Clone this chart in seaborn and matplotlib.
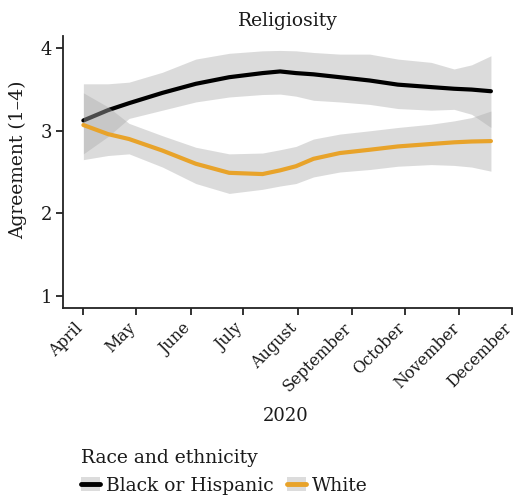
import numpy as np
import pandas as pd
import matplotlib
matplotlib.use("Agg")
import matplotlib.pyplot as plt
import matplotlib.dates as mdates
from matplotlib.patches import Patch
from matplotlib.lines import Line2D
import seaborn as sns

# ---- data (smoothed trend + confidence band) ----
dates = ["2020-04-01", "2020-04-15", "2020-04-27", "2020-05-16", "2020-06-04",
         "2020-06-23", "2020-07-12", "2020-07-22", "2020-07-31", "2020-08-10",
         "2020-08-25", "2020-09-11", "2020-09-27", "2020-10-16", "2020-10-29",
         "2020-11-08", "2020-11-19"]

black_mean = [3.125, 3.25, 3.335, 3.46, 3.57, 3.65, 3.70, 3.72, 3.70, 3.685,
              3.65, 3.61, 3.56, 3.53, 3.51, 3.50, 3.48]
black_hi = [3.57, 3.57, 3.59, 3.71, 3.87, 3.94, 3.97, 3.975, 3.97, 3.95,
            3.93, 3.93, 3.87, 3.83, 3.75, 3.80, 3.91]
black_lo = [2.72, 2.93, 3.15, 3.25, 3.35, 3.41, 3.44, 3.445, 3.42, 3.37,
            3.35, 3.32, 3.27, 3.25, 3.26, 3.20, 3.04]

white_mean = [3.07, 2.96, 2.90, 2.76, 2.60, 2.49, 2.475, 2.52, 2.57, 2.66,
              2.73, 2.77, 2.81, 2.84, 2.86, 2.87, 2.875]
white_hi = [3.46, 3.29, 3.09, 2.94, 2.80, 2.72, 2.73, 2.77, 2.81, 2.90,
            2.96, 3.00, 3.04, 3.08, 3.12, 3.16, 3.24]
white_lo = [2.65, 2.70, 2.72, 2.56, 2.36, 2.24, 2.29, 2.33, 2.36, 2.44,
            2.50, 2.53, 2.57, 2.59, 2.58, 2.56, 2.51]

groups = ["Black or Hispanic", "White"]
colors = {"Black or Hispanic": "#000000", "White": "#E8A32A"}
month_ticks = ["2020-04-01", "2020-05-01", "2020-06-01", "2020-07-01", "2020-08-01",
               "2020-09-01", "2020-10-01", "2020-11-01", "2020-12-01"]
month_labels = ["April", "May", "June", "July", "August", "September",
                "October", "November", "December"]

df = pd.DataFrame({
    "date": pd.to_datetime(dates * 2),
    "mean": black_mean + white_mean,
    "lo": black_lo + white_lo,
    "hi": black_hi + white_hi,
    "group": [groups[0]] * len(dates) + [groups[1]] * len(dates),
})

sns.set_theme(style="ticks")
plt.rcParams["font.family"] = ["DejaVu Serif"]
TXT = "#1a1a1a"

fig = plt.figure(figsize=(5.16, 4.96), dpi=100)
ax = fig.add_axes([63 / 516, 1 - 308 / 496, (512 - 63) / 516, (308 - 36) / 496])

band_color = "#ADADAD"
z = 1
for g in groups:
    sub = df[df.group == g]
    ax.fill_between(sub["date"], sub["lo"], sub["hi"], color=band_color,
                    alpha=0.43, linewidth=0, zorder=z)
    sns.lineplot(data=sub, x="date", y="mean", color=colors[g], linewidth=3.0,
                 ax=ax, zorder=z + 1, legend=False)
    z += 2

d0 = pd.Timestamp(dates[0]); d1 = pd.Timestamp(dates[-1])
pad = (d1 - d0) * 0.05
ax.set_xlim(d0 - pad, d1 + pad)
ax.set_ylim(0.85, 4.15)
ax.set_yticks([1, 2, 3, 4])
tick_dates = pd.to_datetime(month_ticks)
ax.set_xticks(tick_dates)
ax.set_xticklabels([""] * len(month_labels))
for d, lab in zip(tick_dates, month_labels):
    ax.annotate(lab, xy=(mdates.date2num(d), 0), xycoords=ax.get_xaxis_transform(),
                xytext=(0.3, -15), textcoords="offset points",
                rotation=45, ha="right", va="baseline", rotation_mode="anchor",
                fontsize=11.5, color=TXT, annotation_clip=False)
ax.tick_params(axis="y", labelsize=13, colors=TXT)
ax.tick_params(axis="both", length=5, width=1.3, color="#222222", pad=3)
for s in ["top", "right"]:
    ax.spines[s].set_visible(False)
for s in ["left", "bottom"]:
    ax.spines[s].set_linewidth(1.3)
    ax.spines[s].set_color("#222222")

ax.set_title("Religiosity", fontsize=13.5, color=TXT, pad=7)
ax.set_ylabel("Agreement (1–4)", fontsize=13.5, color=TXT)
ax.yaxis.set_label_coords(-0.08, 0.545)
ax.set_xlabel("2020", fontsize=13, color=TXT)
ax.xaxis.set_label_coords(0.495, -0.365)

handles = []
for g in groups:
    bg = Patch(facecolor="#DCDCDC", edgecolor="none")
    ln = Line2D([], [], color=colors[g], linewidth=3.5)
    handles.append((bg, ln))
leg = fig.legend(handles=handles, labels=groups, title="Race and ethnicity",
                 loc="lower left", bbox_to_anchor=(77 / 516, -0.005), ncol=2,
                 frameon=False, fontsize=13.5, title_fontsize=13.5,
                 handlelength=1.0, handleheight=0.8, handletextpad=0.35,
                 columnspacing=0.7, borderaxespad=0.0, borderpad=0.2,
                 labelspacing=0.52)
leg._legend_box.align = "left"
for t in leg.get_texts():
    t.set_color(TXT)
leg.get_title().set_color(TXT)

fig.savefig("out.png", dpi=100)
